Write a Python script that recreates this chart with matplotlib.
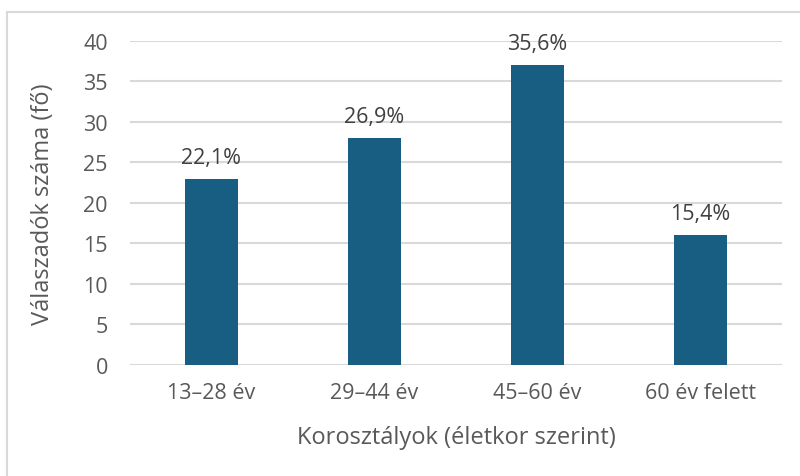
import matplotlib
matplotlib.use("Agg")
import matplotlib.pyplot as plt
from matplotlib.lines import Line2D

# adatok
categories = ["13–28 év", "29–44 év", "45–60 év", "60 év felett"]
counts = [23, 28, 37, 16]
pct_labels = ["22,1%", "26,9%", "35,6%", "15,4%"]
y_ticks = [0, 5, 10, 15, 20, 25, 30, 35, 40]

TXT = "#595959"
GRID = "#D9D9D9"
BAR = "#175E82"

plt.rcParams["font.family"] = ["Open Sans", "DejaVu Sans"]

fig = plt.figure(figsize=(8, 4.77), dpi=100)
ax = fig.add_axes([0.1625, 0.2327, 0.815, 0.6793])

x = list(range(len(categories)))
bars = ax.bar(x, counts, width=0.32, color=BAR, zorder=3)
for b, lab in zip(bars, pct_labels):
    ax.annotate(lab, (b.get_x() + b.get_width() / 2, b.get_height()),
                xytext=(0, 8), textcoords="offset points",
                ha="center", va="bottom", fontsize=15.5, color="#404040")

ax.set_xlim(-0.5, len(categories) - 0.5)
ax.set_ylim(0, 40)
ax.set_yticks(y_ticks)
ax.set_xticks(x)
ax.set_xticklabels(categories)
ax.yaxis.grid(True, color=GRID, linewidth=1.5, zorder=0)
for s in ax.spines.values():
    s.set_visible(False)
ax.tick_params(axis="both", length=0, labelsize=15.5, colors=TXT)
ax.tick_params(axis="y", pad=16)
ax.tick_params(axis="x", pad=12)

ax.set_xlabel("Korosztályok (életkor szerint)", fontsize=17, color=TXT, labelpad=16)
ax.set_ylabel("Válaszadók száma (fő)", fontsize=17, color=TXT, labelpad=20)

# diagram keret (csak a bal és felső éle látszik)
fig.add_artist(Line2D([7 / 800, 7 / 800], [0, 1 - 13 / 477], transform=fig.transFigure,
                      color=GRID, linewidth=1.5))
fig.add_artist(Line2D([7 / 800, 1], [1 - 13 / 477, 1 - 13 / 477], transform=fig.transFigure,
                      color=GRID, linewidth=1.5))

fig.savefig("out.png", dpi=100)
